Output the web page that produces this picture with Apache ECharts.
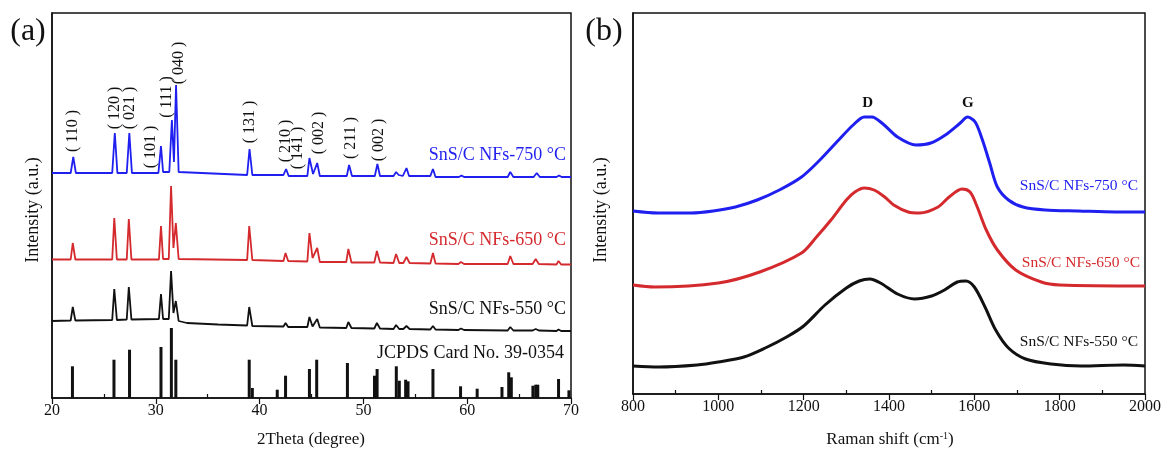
<!DOCTYPE html>
<html><head><meta charset="utf-8">
<script src="https://cdn.jsdelivr.net/npm/echarts@6/dist/echarts.min.js"></script>
<style>html,body{margin:0;padding:0;background:#fff}#c{width:1164px;height:458px}</style>
</head><body><div id="c"></div>
<script>
// ---------- (a) XRD data: [2theta, intensity (offset stacked, a.u.)] ----------
const xrd750 = [
[20,225],[21.8,225],[22.05,241],[22.3,225],
[25.8,225],[26.05,265],[26.3,225],
[27.2,225],[27.45,265],[27.7,225],
[30.25,225],[30.5,252],[30.7,226],
[31.3,226],[31.55,278],[31.75,236],[31.95,313],[32.2,226],
[38.8,223],[39.03,249],[39.3,223],
[42.3,223],[42.55,229],[42.8,222],
[44.6,222],[44.8,240],[45.15,224],[45.55,235],[45.8,222],
[48.4,222],[48.62,233],[48.9,222],
[51.1,222],[51.35,234],[51.6,222],
[52.9,222],[53.15,226],[53.4,223],[53.8,222],[54.15,230],[54.4,222],
[56.45,222],[56.7,229],[56.95,221],
[59.2,221],[59.45,222.5],[59.7,221],
[63.9,221],[64.15,226],[64.45,221],
[66.4,221],[66.7,225],[67.0,221],
[68.6,221],[68.85,222.5],[69.1,221],
[70,221]
];
const xrd650 = [
[20,138.5],[21.8,138.5],[22.0,155],[22.25,138.5],
[25.8,138.5],[26.0,180],[26.25,138.5],
[27.2,138.5],[27.4,179],[27.65,138.5],
[30.3,138.5],[30.5,172],[30.7,139],
[31.25,139],[31.47,212],[31.7,150],[31.93,175],[32.2,139],
[38.8,138],[39.0,172],[39.3,138],
[42.3,137],[42.5,145],[42.75,137],
[44.6,136.5],[44.8,165],[45.1,140],[45.55,150],[45.8,136],
[48.35,136],[48.55,149],[48.85,135.5],
[51.05,135.5],[51.3,147],[51.6,135.5],
[52.9,135],[53.15,144],[53.45,135],[53.85,135],[54.15,141],[54.45,135],
[56.45,134.5],[56.7,145],[56.95,134.5],
[59.15,134],[59.4,136],[59.7,134],
[63.9,134],[64.15,142],[64.45,134],
[66.3,134],[66.6,139],[66.9,134],
[68.6,133.5],[68.8,137],[69.05,133.5],
[70,133.5]
];
const xrd550 = [
[20,77],[21.8,77.5],[22.0,91],[22.25,77.5],
[25.8,78],[26.0,109],[26.25,78],
[27.2,78.5],[27.4,111],[27.65,78.5],
[30.3,79],[30.5,104],[30.7,79],
[31.25,79],[31.47,127],[31.7,85],[31.93,97],[32.2,77],
[33,75],[36,73.5],
[38.8,72.5],[39.0,91],[39.3,72],
[42.3,71.5],[42.5,75],[42.75,71],
[44.6,71],[44.8,81],[45.1,71.5],[45.55,79],[45.8,70.5],
[48.35,70],[48.55,76],[48.85,70],
[51.05,69.5],[51.3,75],[51.6,69.5],
[52.9,69],[53.15,73],[53.45,69],[53.85,69],[54.15,72],[54.45,69],
[56.45,68.5],[56.7,72],[56.95,68.5],
[59.15,68],[59.4,69.5],[59.7,68],
[63.9,67.5],[64.15,71],[64.45,67.5],
[66.3,67.5],[66.6,69],[66.9,67.5],
[68.6,67],[68.8,68.5],[69.05,67],
[70,67]
];
const jcpdsPos = [21.97,25.97,27.47,30.5,31.5,31.93,39.0,39.3,41.7,42.5,44.8,45.5,48.46,51.07,51.32,53.17,53.46,54.07,54.3,56.7,59.36,60.96,63.35,64.0,64.25,66.33,66.6,66.8,68.8,69.8];
const jcpdsInt = [31.7,38.3,48.3,51,70,38.3,38.3,10,8.3,22.3,29,38.3,35,22.3,29,31.7,17.3,18.3,16.7,29,11.7,9.3,11,25.7,20.7,12.3,13.3,13.3,19,7.7];
const peakNames = ['110','120','021','101','111','040','131','210','141','002','211','002'];
const peakLabelX = [22.05,26.05,27.45,29.55,31.09,32.25,39.1,42.57,43.7,45.75,48.74,51.44];
const peakLabelY = [267,290,290,251,301,335,276,257,250,265,260,258];
const xrdTickMinor = [25,35,45,55,65];

// ---------- (b) Raman data: [Raman shift, intensity (offset, a.u.)] ----------
const raman750 = [[800,183],[858,181],[936,181],[988,183],[1040,187],[1091,194],[1143,204],[1195,217],[1238,234],[1282,254],[1316,269],[1342,277],[1360,277],[1386,270],[1420,257],[1463,249],[1498,251],[1532,259],[1567,271],[1584,277],[1602,272],[1619,254],[1636,231],[1654,207],[1680,194],[1714,187],[1766,184],[1844,183],[1930,182],[2000,182]];
const raman650 = [[800,109],[850,107],[1000,111],[1097,122],[1195,141],[1230,157],[1264,174],[1300,194],[1320,202],[1342,206],[1365,204],[1390,197],[1411,189],[1445,182],[1472,181],[1515,187],[1541,197],[1571,205],[1590,202],[1605,189],[1628,164],[1654,144],[1697,124],[1757,112],[1800,109],[2000,108]];
const raman550 = [[800,28],[860,27],[950,29],[1000,32],[1060,37],[1110,46],[1160,57],[1200,68],[1250,89],[1300,106],[1330,113],[1355,115],[1380,111],[1420,100],[1460,95],[1500,98],[1530,104],[1560,112],[1580,113],[1600,107],[1625,87],[1650,64],[1680,46],[1720,35],[1780,30],[1850,28],[1950,29],[2000,28]];
const ramanTickMinor = [900,1100,1300,1500,1700,1900];

const seriesNamesA = ['SnS/C NFs-750 °C','SnS/C NFs-650 °C','SnS/C NFs-550 °C','JCPDS Card No. 39-0354'];
const seriesNamesB = ['SnS/C NFs-750 °C','SnS/C NFs-650 °C','SnS/C NFs-550 °C'];

const BLUE='#1f1ff0', RED='#d42a2e', BLACK='#111';
const FONT='"Liberation Serif","Times New Roman",serif';

const chart = echarts.init(document.getElementById('c'), null, {renderer:'canvas'});

function mainX(grid,min,max,interval){
  return {type:'value',gridIndex:grid,min:min,max:max,interval:interval,
    axisLine:{show:true,onZero:false,lineStyle:{color:'#111',width:1.5}},
    axisTick:{show:true,inside:false,length:6,lineStyle:{color:'#111',width:1.2}},
    axisLabel:{show:true,margin:5,fontFamily:FONT,fontSize:16,color:'#111',formatter:v=>String(v)},
    splitLine:{show:false}};
}
function minorX(grid,min,max,vals){
  return {type:'value',gridIndex:grid,min:min,max:max,position:'bottom',
    axisLine:{show:false},
    axisTick:{show:true,inside:true,length:4,customValues:vals,lineStyle:{color:'#111',width:1.2}},
    axisLabel:{show:false},splitLine:{show:false}};
}
function plainY(grid,max){
  return {type:'value',gridIndex:grid,min:0,max:max,
    axisLine:{show:true,lineStyle:{color:'#111',width:1.5}},
    axisTick:{show:false},axisLabel:{show:false},splitLine:{show:false}};
}

chart.setOption({
  animation:false,
  backgroundColor:'#fff',
  grid:[
    {left:52,top:13,width:519,height:385,show:true,borderColor:'#111',borderWidth:1.5,backgroundColor:'transparent'},
    {left:633,top:13,width:514,height:381,show:true,borderColor:'#111',borderWidth:1.5,backgroundColor:'transparent'}
  ],
  xAxis:[mainX(0,20,70,10),minorX(0,20,70,xrdTickMinor),mainX(1,800,2000,200),minorX(1,800,2000,ramanTickMinor)],
  yAxis:[plainY(0,385),plainY(1,381)],
  series:[
    {type:'line',name:seriesNamesA[0],xAxisIndex:0,yAxisIndex:0,data:xrd750,symbol:'none',lineStyle:{color:BLUE,width:1.8},z:3},
    {type:'line',name:seriesNamesA[1],xAxisIndex:0,yAxisIndex:0,data:xrd650,symbol:'none',lineStyle:{color:RED,width:1.8},z:3},
    {type:'line',name:seriesNamesA[2],xAxisIndex:0,yAxisIndex:0,data:xrd550,symbol:'none',lineStyle:{color:BLACK,width:1.8},z:3},
    {type:'bar',name:seriesNamesA[3],xAxisIndex:0,yAxisIndex:0,data:jcpdsPos.map((p,i)=>[p,jcpdsInt[i]]),barWidth:3,itemStyle:{color:BLACK},z:3},
    {type:'line',name:seriesNamesB[0],xAxisIndex:2,yAxisIndex:1,data:raman750,symbol:'none',smooth:0.3,lineStyle:{color:BLUE,width:3},z:3},
    {type:'line',name:seriesNamesB[1],xAxisIndex:2,yAxisIndex:1,data:raman650,symbol:'none',smooth:0.3,lineStyle:{color:RED,width:3},z:3},
    {type:'line',name:seriesNamesB[2],xAxisIndex:2,yAxisIndex:1,data:raman550,symbol:'none',smooth:0.3,lineStyle:{color:BLACK,width:3},z:3}
  ]
});

// annotations
const g = [];
function txt(x,y,text,opt){
  g.push(Object.assign({type:'text',x:x,y:y,z:10,style:Object.assign({text:text,fontFamily:FONT,fontSize:16,fill:'#111',align:'center',verticalAlign:'middle'},opt.style||{})},opt.extra||{}));
}
txt(28,32,'(a)',{style:{fontSize:32}});
txt(604,32,'(b)',{style:{fontSize:32}});
txt(311,440,'2Theta (degree)',{style:{fontSize:17}});
g.push({type:'text',x:890,y:440,z:10,style:{text:'Raman shift (cm{s|-1})',align:'center',verticalAlign:'middle',
  rich:{s:{fontFamily:FONT,fontSize:10,verticalAlign:'top',padding:[0,0,8,0],fill:'#111'}},fontFamily:FONT,fontSize:17,fill:'#111'}});
txt(33,210,'Intensity (a.u.)',{style:{fontSize:18},extra:{rotation:Math.PI/2}});
txt(601,210,'Intensity (a.u.)',{style:{fontSize:18},extra:{rotation:Math.PI/2}});
// series labels, left panel
txt(566,155,seriesNamesA[0],{style:{fontSize:18,fill:BLUE,align:'right'}});
txt(566,240,seriesNamesA[1],{style:{fontSize:18,fill:RED,align:'right'}});
txt(566,309,seriesNamesA[2],{style:{fontSize:18,fill:BLACK,align:'right'}});
txt(564,353,seriesNamesA[3],{style:{fontSize:18,fill:BLACK,align:'right'}});
// series labels, right panel
txt(1138,186,seriesNamesB[0],{style:{fontSize:15.5,fill:BLUE,align:'right'}});
txt(1140,263,seriesNamesB[1],{style:{fontSize:15.5,fill:RED,align:'right'}});
txt(1138,342,seriesNamesB[2],{style:{fontSize:15.5,fill:BLACK,align:'right'}});
// D / G
const dPt = chart.convertToPixel({xAxisIndex:2,yAxisIndex:1},[1350,291]);
const gPt = chart.convertToPixel({xAxisIndex:2,yAxisIndex:1},[1585,291]);
txt(dPt[0],dPt[1],'D',{style:{fontSize:15,fontWeight:'bold'}});
txt(gPt[0],gPt[1],'G',{style:{fontSize:15,fontWeight:'bold'}});
// peak labels (Miller indices)
peakNames.forEach((n,i)=>{
  const p = chart.convertToPixel({xAxisIndex:0,yAxisIndex:0},[peakLabelX[i],peakLabelY[i]]);
  txt(p[0],p[1],'( '+n+' )',{style:{fontSize:16},extra:{rotation:Math.PI/2}});
});
chart.setOption({graphic:g});
</script></body></html>
